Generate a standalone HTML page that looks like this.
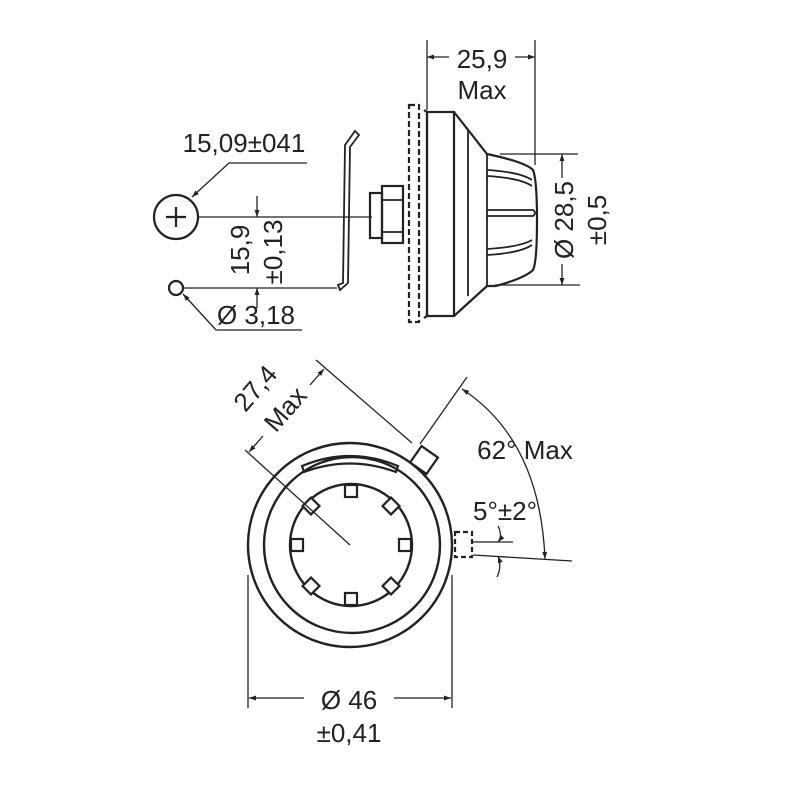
<!DOCTYPE html>
<html><head><meta charset="utf-8"><style>
html,body{margin:0;padding:0;background:#fff;}
svg{display:block;}
text{font-family:"Liberation Sans",sans-serif;fill:#222;}
</style></head><body>
<svg width="800" height="800" viewBox="0 0 800 800" xmlns="http://www.w3.org/2000/svg">
<defs>
<marker id="a" viewBox="0 0 10 10" refX="10" refY="5" markerWidth="10" markerHeight="7" orient="auto-start-reverse" markerUnits="userSpaceOnUse"><path d="M0,1.5 L10,5 L0,8.5 z" fill="#222"/></marker>
</defs>
<g stroke="#222" fill="none" stroke-width="1.3">
<circle cx="176" cy="217" r="22" stroke-width="2.2"/>
<line x1="166" y1="217" x2="186" y2="217" stroke-width="2.2"/>
<line x1="176" y1="207" x2="176" y2="227" stroke-width="2.2"/>
<circle cx="176" cy="288" r="7" stroke-width="2.2"/>
<line x1="198" y1="217" x2="372" y2="217"/>
<line x1="184" y1="288" x2="337" y2="288"/>
<polyline points="307,163 229,163 192,197" marker-end="url(#a)"/>
<polyline points="302,330 216,330 183,294" marker-end="url(#a)"/>
<line x1="257" y1="196" x2="257" y2="217" marker-end="url(#a)"/>
<line x1="257" y1="308" x2="257" y2="288" marker-end="url(#a)"/>
<path d="M345,145 L355,131 L359,135 L350,147 L348,283 L340,290 L338,285 L343,283 Z" stroke-width="1.8"/>
<rect x="370" y="193" width="12" height="45" stroke-width="2.2"/>
<rect x="382" y="186" width="21" height="57" stroke-width="2.2"/>
<line x1="382" y1="200" x2="403" y2="200" stroke-width="1.8"/>
<line x1="382" y1="232" x2="403" y2="232" stroke-width="1.8"/>
<rect x="409" y="105" width="10" height="217" stroke-width="2.2" stroke-dasharray="6,3"/>
<path d="M424,110 L427,112 L427,316 L424,318" stroke-width="2.2"/>
<rect x="427" y="112" width="27" height="204" stroke-width="2.2"/>
<line x1="468" y1="130" x2="468" y2="296" stroke-width="1.8"/>
<path d="M454,112 L487,154 Q525,162 533,170 Q537,180 537,220 Q537,262 533,270 Q525,278 496,286 L487,286 L454,316" stroke-width="2.2"/>
<path d="M487,170 Q520,172 532,180 M487,176 Q520,178 532,186" stroke-width="1.8"/>
<path d="M487,210 L533,210 Q537,213 533,216 L487,216" stroke-width="1.8"/>
<path d="M487,255 Q520,253 532,245 M487,249 Q520,247 532,240" stroke-width="1.8"/>
<line x1="487" y1="154" x2="487" y2="286" stroke-width="1.8"/>
<line x1="427" y1="40" x2="427" y2="110"/>
<line x1="535" y1="40" x2="535" y2="165"/>
<line x1="449" y1="57" x2="427" y2="57" marker-end="url(#a)"/>
<line x1="515" y1="57" x2="535" y2="57" marker-end="url(#a)"/>
<line x1="500" y1="154" x2="578" y2="154"/>
<line x1="495" y1="285" x2="580" y2="285"/>
<line x1="562" y1="178" x2="562" y2="154" marker-end="url(#a)"/>
<line x1="562" y1="264" x2="562" y2="285" marker-end="url(#a)"/>
<circle cx="350" cy="545" r="102" stroke-width="2.4"/>
<circle cx="352" cy="545" r="88" stroke-width="2.4"/>
<circle cx="351" cy="545" r="61" stroke-width="2.4"/>
<path d="M302,466 Q350,446 398,466 L396,472 Q350,455 304,472 Z" stroke-width="2.2"/>
<g stroke-width="2.2" fill="#fff">
<rect x="345" y="485" width="12" height="12"/>
<rect x="345" y="593" width="12" height="12"/>
<rect x="291" y="539" width="12" height="12"/>
<rect x="399" y="539" width="12" height="12"/>
<rect x="305" y="500" width="12" height="12" transform="rotate(45 311 506)"/>
<rect x="385" y="500" width="12" height="12" transform="rotate(45 391 506)"/>
<rect x="305" y="580" width="12" height="12" transform="rotate(45 311 586)"/>
<rect x="385" y="580" width="12" height="12" transform="rotate(45 391 586)"/>
<rect x="414" y="450" width="20" height="20" transform="rotate(35 424 460)"/>
</g>
<rect x="455" y="532" width="17" height="25" stroke-width="2.2" stroke-dasharray="5,3"/>
<line x1="350" y1="545" x2="245" y2="450"/>
<line x1="316" y1="360" x2="412" y2="443"/>
<line x1="263" y1="436" x2="249" y2="452" marker-end="url(#a)"/>
<line x1="310" y1="385" x2="324" y2="369" marker-end="url(#a)"/>
<line x1="420" y1="444" x2="467" y2="377"/>
<line x1="473" y1="555" x2="572" y2="561"/>
<path d="M462,389 Q540,440 545,559" marker-start="url(#a)" marker-end="url(#a)"/>
<line x1="473" y1="542" x2="513" y2="542"/>
<path d="M498,526 Q503,536 498,542" marker-end="url(#a)"/>
<path d="M497,577 Q502,567 498,556" marker-end="url(#a)"/>
<line x1="248" y1="575" x2="248" y2="708"/>
<line x1="452" y1="575" x2="452" y2="708"/>
<line x1="304" y1="698" x2="249" y2="698" marker-end="url(#a)"/>
<line x1="394" y1="698" x2="451" y2="698" marker-end="url(#a)"/>
</g>
<g font-size="26">
<text x="244" y="152" text-anchor="middle">15,09±041</text>
<text x="256" y="324" text-anchor="middle">Ø 3,18</text>
<text transform="translate(249,250) rotate(-90)" text-anchor="middle">15,9</text>
<text transform="translate(282,252) rotate(-90)" text-anchor="middle">±0,13</text>
<text x="482" y="68" text-anchor="middle">25,9</text>
<text x="482" y="99" text-anchor="middle">Max</text>
<text transform="translate(573,220) rotate(-90)" text-anchor="middle">Ø 28,5</text>
<text transform="translate(606,220) rotate(-90)" text-anchor="middle">±0,5</text>
<text transform="translate(262,394) rotate(-49)" text-anchor="middle">27,4</text>
<text transform="translate(292,415) rotate(-49)" text-anchor="middle">Max</text>
<text x="525" y="459" text-anchor="middle">62° Max</text>
<text x="505" y="520" text-anchor="middle">5°±2°</text>
<text x="349" y="709" text-anchor="middle">Ø 46</text>
<text x="349" y="742" text-anchor="middle">±0,41</text>
</g>
</svg>
</body></html>
